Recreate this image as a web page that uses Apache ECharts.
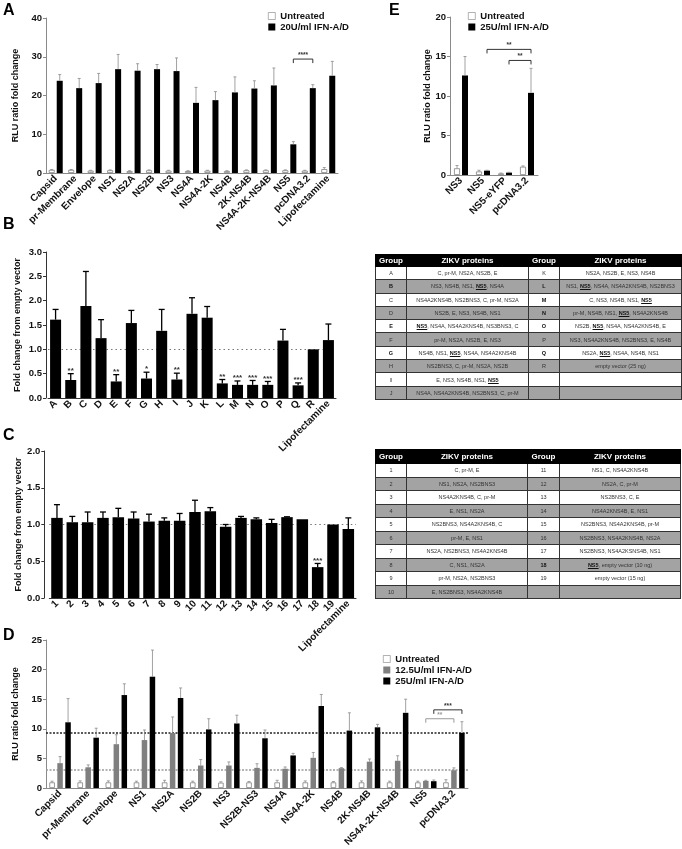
<!DOCTYPE html>
<html>
<head>
<meta charset="utf-8">
<script src="https://cdn.jsdelivr.net/npm/echarts@6/dist/echarts.min.js"></script>
<style>
  html, body { margin: 0; padding: 0; background: #fff; }
  #wrap { position: relative; width: 682px; height: 849px; overflow: hidden; }
  #chart { position: absolute; left: 0; top: 0; width: 682px; height: 849px; }
  table.zt { position: absolute; border-collapse: collapse; table-layout: fixed;
    font-family: 'Liberation Sans', Arial, Helvetica, sans-serif; }
  table.zt th, table.zt td { border: 1px solid #333; padding: 0; text-align: center;
    white-space: nowrap; overflow: hidden; }
  table.zt th { background: #000; color: #fff; font-weight: bold; font-size: 8px; border-color: #000; }
  table.zt td { font-size: 5.5px; color: #333; background: #fff; }
  table.zt tr.g td { background: #a3a3a3; }
  table.zt td b.k { font-weight: bold; color: #111; }
  table.zt u { font-weight: bold; color: #111; }
</style>
</head>
<body>
<div id="wrap">
  <div id="chart"></div>
</div>
<script>
// ---------------- DATA ----------------
// Panel A
const catsA = ['Capsid','pr-Membrane','Envelope','NS1','NS2A','NS2B','NS3','NS4A','NS4A-2K','NS4B','2K-NS4B','NS4A-2K-NS4B','NS5','pcDNA3.2','Lipofectamine'];
const untreatedA    = [0.8,0.8,0.6,0.7,0.5,0.7,0.6,0.5,0.6,0.5,0.7,0.7,0.7,0.6,1.0];
const untreatedAErr = [0.9,0.9,0.7,0.8,0.6,0.8,0.7,0.6,0.7,0.6,0.8,0.8,0.8,0.7,1.4];
const ifn20A        = [23.8,21.9,23.2,26.8,26.4,26.8,26.3,18.1,18.8,20.8,21.8,22.6,7.4,21.9,25.1];
const ifn20AErr     = [25.4,24.4,25.7,30.6,28.2,28.0,29.7,22.1,21.0,24.8,23.8,27.1,8.1,22.8,28.8];
const bracketsA     = [[12,1,13,1,29.4]];
const bracketLabelsA = ['****'];

// Panel E
const catsE = ['NS3','NS5','NS5-eYFP','pcDNA3.2'];
const untreatedE    = [0.85,0.45,0.2,1.05];
const untreatedEErr = [1.2,0.6,0.25,1.15];
const ifn25E        = [12.6,0.55,0.3,10.4];
const ifn25EErr     = [15.0,0.6,0.35,13.5];
const bracketsE     = [[1,1,3,1,15.9],[2,1,3,1,14.5]];
const bracketLabelsE = ['**','**'];

// Panel B
const catsB = ['A','B','C','D','E','F','G','H','I','J','K','L','M','N','O','P','Q','R','Lipofectamine'];
const foldB    = [1.61,0.37,1.89,1.23,0.34,1.54,0.40,1.38,0.38,1.73,1.65,0.30,0.27,0.27,0.27,1.18,0.26,1.00,1.19];
const foldBErr = [1.82,0.50,2.60,1.61,0.48,1.80,0.53,1.82,0.51,2.06,1.88,0.38,0.35,0.36,0.34,1.41,0.31,1.00,1.52];
const starsB   = ['','**','','','**','','*','','**','','','**','***','***','***','','***','',''];
const refLineB = 1.0;

// Panel C
const catsC = ['1','2','3','4','5','6','7','8','9','10','11','12','13','14','15','16','17','18','19','Lipofectamine'];
const foldC    = [1.09,1.03,1.03,1.09,1.10,1.08,1.04,1.05,1.05,1.17,1.18,0.97,1.09,1.07,1.02,1.10,1.07,0.42,1.00,0.94];
const foldCErr = [1.27,1.11,1.17,1.17,1.22,1.17,1.14,1.09,1.15,1.33,1.23,1.00,1.11,1.09,1.07,1.105,1.07,0.47,1.00,1.09];
const starsC   = ['','','','','','','','','','','','','','','','','','***','',''];
const refLineC = 1.0;

// Panel D
const catsD = ['Capsid','pr-Membrane','Envelope','NS1','NS2A','NS2B','NS3','NS2B-NS3','NS4A','NS4A-2K','NS4B','2K-NS4B','NS4A-2K-NS4B','NS5','pcDNA3.2'];
const untreatedD    = [0.95,0.95,0.95,0.95,0.95,0.95,0.9,0.95,0.95,0.95,0.95,0.95,0.95,0.95,0.95];
const untreatedDErr = [1.15,1.2,1.2,1.15,1.3,1.15,1.05,1.1,1.3,1.2,1.1,1.2,1.15,1.15,1.4];
const ifn12D        = [4.2,3.5,7.4,8.1,9.3,3.8,3.8,3.4,3.25,5.1,3.35,4.45,4.6,1.2,3.0];
const ifn12DErr     = [5.3,3.9,9.0,9.8,12.0,4.8,4.4,4.1,3.55,6.0,3.45,4.9,5.45,1.3,3.4];
const ifn25D        = [11.1,8.5,15.7,18.8,15.2,9.9,10.9,8.4,5.5,13.85,9.7,10.25,12.7,1.15,9.3];
const ifn25DErr     = [15.1,10.1,17.6,23.3,16.9,11.7,12.3,9.8,5.85,15.8,12.7,10.75,15.0,1.35,11.2];
const refLinesD     = [9.3, 3.0];
const bracketsD     = [[13,2,14,2,13.2],[13,1,14,1,11.7]];
const bracketLabelsD = ['***','**'];

// Tables
const tableBHead = ['Group','ZIKV proteins','Group','ZIKV proteins'];
const tableBLeft = [
  ['A','C, pr-M, NS2A, NS2B, E'],
  ['B','NS3, NS4B, NS1, NS5, NS4A'],
  ['C','NS4A2KNS4B, NS2BNS3, C, pr-M, NS2A'],
  ['D','NS2B, E, NS3, NS4B, NS1'],
  ['E','NS5, NS4A, NS4A2KNS4B, NS3BNS3, C'],
  ['F','pr-M, NS2A, NS2B, E, NS3'],
  ['G','NS4B, NS1, NS5, NS4A, NS4A2KNS4B'],
  ['H','NS2BNS3, C, pr-M, NS2A, NS2B'],
  ['I','E, NS3, NS4B, NS1, NS5'],
  ['J','NS4A, NS4A2KNS4B, NS2BNS3, C, pr-M']
];
const tableBRight = [
  ['K','NS2A, NS2B, E, NS3, NS4B'],
  ['L','NS1, NS5, NS4A, NS4A2KNS4B, NS2BNS3'],
  ['M','C, NS3, NS4B, NS1, NS5'],
  ['N','pr-M, NS4B, NS1, NS5, NS4A2KNS4B'],
  ['O','NS2B, NS5, NS4A, NS4A2KNS4B, E'],
  ['P','NS3, NS4A2KNS4B, NS2BNS3, E, NS4B'],
  ['Q','NS2A, NS5, NS4A, NS4B, NS1'],
  ['R','empty vector (25 ng)'],
  ['',''],
  ['','']
];
const tableCHead = ['Group','ZIKV proteins','Group','ZIKV proteins'];
const tableCLeft = [
  ['1','C, pr-M, E'],
  ['2','NS1, NS2A, NS2BNS3'],
  ['3','NS4A2KNS4B, C, pr-M'],
  ['4','E, NS1, NS2A'],
  ['5','NS2BNS3, NS4A2KNS4B, C'],
  ['6','pr-M, E, NS1'],
  ['7','NS2A, NS2BNS3, NS4A2KNS4B'],
  ['8','C, NS1, NS2A'],
  ['9','pr-M, NS2A, NS2BNS3'],
  ['10','E, NS2BNS3, NS4A2KNS4B']
];
const tableCRight = [
  ['11','NS1, C, NS4A2KNS4B'],
  ['12','NS2A, C, pr-M'],
  ['13','NS2BNS3, C, E'],
  ['14','NS4A2KNS4B, E, NS1'],
  ['15','NS2BNS3, NS4A2KNS4B, pr-M'],
  ['16','NS2BNS3, NS4A2KNS4B, NS2A'],
  ['17','NS2BNS3, NS4A2KSNS4B, NS1'],
  ['18','NS5, empty vector (10 ng)'],
  ['19','empty vector (15 ng)'],
  ['','']
];

// ---------------- STYLE / LAYOUT ----------------
const FONT = "'Liberation Sans', Arial, Helvetica, sans-serif";
const GRAY_AX = '#8a8a8a';
const DARK_AX = '#333';
const grids = [
  { left: 46,   top: 18,  width: 292,   height: 155 }, // A
  { left: 450,  top: 17,  width: 88,    height: 158 }, // E
  { left: 48,   top: 252, width: 288,   height: 146 }, // B
  { left: 49.3, top: 451, width: 306.7, height: 147 }, // C
  { left: 46,   top: 640, width: 422,   height: 148 }  // D
].map(g => Object.assign({ outerBoundsMode: 'none', containLabel: false }, g));

function xAx(gi, cats, axColor) {
  return {
    type: 'category', gridIndex: gi, data: cats,
    axisLine: { lineStyle: { color: axColor, width: 1 } },
    axisTick: { alignWithLabel: true, length: 2.5, lineStyle: { color: axColor } },
    axisLabel: { rotate: 45, interval: 0, margin: 4, fontSize: 10, fontWeight: 'bold',
                 fontFamily: FONT, color: '#111' }
  };
}
function yAx(gi, max, interval, name, gap, axColor, dec, offset) {
  return {
    type: 'value', gridIndex: gi, min: 0, max: max, interval: interval, offset: offset || 0,
    splitLine: { show: false },
    axisLine: { show: true, lineStyle: { color: axColor, width: 1 } },
    axisTick: { show: true, length: 3, lineStyle: { color: axColor } },
    axisLabel: { margin: 4, fontSize: 9.5, fontWeight: 'bold', fontFamily: FONT, color: '#111',
                 formatter: v => v.toFixed(dec) },
    name: name, nameLocation: 'middle', nameRotate: 90, nameGap: gap,
    nameTextStyle: { fontSize: 9, fontWeight: 'bold', fontFamily: FONT, color: '#111' }
  };
}

function errSeries(gi, vals, errs, offsetPx, color, lw, capW, stars) {
  return {
    type: 'custom', xAxisIndex: gi, yAxisIndex: gi, z: 5, silent: true,
    encode: { x: 0, y: 1 },
    data: vals.map((v, i) => [i, v, errs[i]]),
    renderItem: function (params, api) {
      const i = api.value(0), v = api.value(1), e = api.value(2);
      const p0 = api.coord([i, v]);
      const p1 = api.coord([i, e]);
      const x = p0[0] + offsetPx;
      const ch = [];
      if (e > v) {
        ch.push({ type: 'line', shape: { x1: x, y1: p0[1], x2: x, y2: p1[1] },
                  style: { stroke: color, lineWidth: lw } });
        ch.push({ type: 'line', shape: { x1: x - capW / 2, y1: p1[1], x2: x + capW / 2, y2: p1[1] },
                  style: { stroke: color, lineWidth: lw } });
      }
      const s = stars ? stars[params.dataIndex] : '';
      if (s) {
        ch.push({ type: 'text', x: x, y: p1[1] + 1,
                  style: { text: s, fill: '#333', font: 'bold 8px ' + FONT, align: 'center', verticalAlign: 'bottom' } });
      }
      return { type: 'group', children: ch };
    }
  };
}

function bracketSeries(gi, rows, labels, offsets, colors) {
  return {
    type: 'custom', xAxisIndex: gi, yAxisIndex: gi, z: 6, silent: true,
    encode: { x: 0, y: 4 },
    data: rows,
    renderItem: function (params, api) {
      const c1 = api.value(0), s1 = api.value(1), c2 = api.value(2), s2 = api.value(3), y = api.value(4);
      const a = api.coord([c1, y]), b = api.coord([c2, y]);
      const x1 = a[0] + offsets[s1], x2 = b[0] + offsets[s2], yy = a[1];
      const col = colors[params.dataIndex];
      return { type: 'group', children: [
        { type: 'polyline', shape: { points: [[x1, yy + 4], [x1, yy], [x2, yy], [x2, yy + 4]] },
          style: { stroke: col, lineWidth: 1, fill: null } },
        { type: 'text', x: (x1 + x2) / 2, y: yy - 0.5,
          style: { text: labels[params.dataIndex], fill: col, font: 'bold 6.5px ' + FONT,
                   align: 'center', verticalAlign: 'bottom' } }
      ] };
    }
  };
}

const untreatedStyle = { color: '#fff', borderColor: '#808080', borderWidth: 0.8 };
const blackStyle = { color: '#000' };
const grayStyle = { color: '#7f7f7f' };
const errGray = '#8a8a8a';

const offA = [-4, 4], offE = [-4, 4], offD = [-8, 0, 8];

const legendText = { fontSize: 9.5, fontWeight: 'bold', fontFamily: FONT, color: '#111' };
function legendAt(left, top, names, gap) {
  return { left: left, top: top, padding: 0, orient: 'vertical', icon: 'rect',
           itemWidth: 7, itemHeight: 7, itemGap: gap, data: names,
           itemStyle: { borderWidth: 0.6 },
           textStyle: legendText, selectedMode: false };
}

const option = {
  animation: false,
  backgroundColor: '#fff',
  grid: grids,
  xAxis: [ xAx(0, catsA, GRAY_AX), xAx(1, catsE, GRAY_AX), xAx(2, catsB, DARK_AX), xAx(3, catsC, DARK_AX), xAx(4, catsD, GRAY_AX) ],
  yAxis: [
    yAx(0, 40, 10, 'RLU ratio fold change', 26, GRAY_AX, 0),
    yAx(1, 20, 5, 'RLU ratio fold change', 17, GRAY_AX, 0),
    yAx(2, 3, 0.5, 'Fold change from empty vector', 24, DARK_AX, 1, 2),
    yAx(3, 2, 0.5, 'Fold change from empty vector', 20, DARK_AX, 1, 5),
    yAx(4, 25, 5, 'RLU ratio fold change', 26, GRAY_AX, 0)
  ],
  legend: [
    legendAt(268, 11, ['Untreated', '20U/ml IFN-A/D'], 1),
    legendAt(468, 11, ['Untreated', '25U/ml IFN-A/D'], 1),
    legendAt(383, 654, ['Untreated', '12.5U/ml IFN-A/D', '25U/ml IFN-A/D'], 1)
  ],
  graphic: [
    { type: 'text', left: 3, top: 3, style: { text: 'A', font: 'bold 16px ' + FONT, fill: '#000' } },
    { type: 'text', left: 389, top: 3, style: { text: 'E', font: 'bold 16px ' + FONT, fill: '#000' } },
    { type: 'text', left: 3, top: 217, style: { text: 'B', font: 'bold 16px ' + FONT, fill: '#000' } },
    { type: 'text', left: 3, top: 428, style: { text: 'C', font: 'bold 16px ' + FONT, fill: '#000' } },
    { type: 'text', left: 3, top: 628, style: { text: 'D', font: 'bold 16px ' + FONT, fill: '#000' } }
  ],
  series: [
    // A
    { type: 'bar', name: 'Untreated', xAxisIndex: 0, yAxisIndex: 0, data: untreatedA, barWidth: 6, barGap: '33%', itemStyle: untreatedStyle },
    { type: 'bar', name: '20U/ml IFN-A/D', xAxisIndex: 0, yAxisIndex: 0, data: ifn20A, barWidth: 6, barGap: '33%', itemStyle: blackStyle },
    errSeries(0, untreatedA, untreatedAErr, offA[0], errGray, 0.8, 3),
    errSeries(0, ifn20A, ifn20AErr, offA[1], errGray, 0.8, 3),
    bracketSeries(0, bracketsA, bracketLabelsA, offA, ['#333']),
    // E
    { type: 'bar', name: 'Untreated', xAxisIndex: 1, yAxisIndex: 1, data: untreatedE, barWidth: 6, barGap: '33%', itemStyle: untreatedStyle },
    { type: 'bar', name: '25U/ml IFN-A/D', xAxisIndex: 1, yAxisIndex: 1, data: ifn25E, barWidth: 6, barGap: '33%', itemStyle: blackStyle },
    errSeries(1, untreatedE, untreatedEErr, offE[0], errGray, 0.8, 3),
    errSeries(1, ifn25E, ifn25EErr, offE[1], errGray, 0.8, 3),
    bracketSeries(1, bracketsE, bracketLabelsE, offE, ['#333', '#333']),
    // B
    { type: 'bar', name: 'B', xAxisIndex: 2, yAxisIndex: 2, data: foldB, barWidth: 11, itemStyle: blackStyle,
      markLine: { silent: true, symbol: 'none', label: { show: false }, z: 1,
                  lineStyle: { type: [1.5, 3], color: '#777', width: 1 }, data: [{ yAxis: refLineB }] } },
    errSeries(2, foldB, foldBErr, 0, '#000', 1.3, 6, starsB),
    // C
    { type: 'bar', name: 'C', xAxisIndex: 3, yAxisIndex: 3, data: foldC, barWidth: 11.5, itemStyle: blackStyle,
      markLine: { silent: true, symbol: 'none', label: { show: false }, z: 1,
                  lineStyle: { type: [1.5, 3], color: '#777', width: 1 }, data: [{ yAxis: refLineC }] } },
    errSeries(3, foldC, foldCErr, 0, '#000', 1.3, 6, starsC),
    // D
    { type: 'bar', name: 'Untreated', xAxisIndex: 4, yAxisIndex: 4, data: untreatedD, barWidth: 5.5, barGap: '45%', itemStyle: untreatedStyle,
      markLine: { silent: true, symbol: 'none', label: { show: false }, z: 1,
                  data: [ { yAxis: refLinesD[0], lineStyle: { type: [2, 1.5], color: '#222', width: 1.5 } },
                          { yAxis: refLinesD[1], lineStyle: { type: [2, 1.5], color: '#9a9a9a', width: 1.5 } } ] } },
    { type: 'bar', name: '12.5U/ml IFN-A/D', xAxisIndex: 4, yAxisIndex: 4, data: ifn12D, barWidth: 5.5, barGap: '45%', itemStyle: grayStyle },
    { type: 'bar', name: '25U/ml IFN-A/D', xAxisIndex: 4, yAxisIndex: 4, data: ifn25D, barWidth: 5.5, barGap: '45%', itemStyle: blackStyle },
    errSeries(4, untreatedD, untreatedDErr, offD[0], errGray, 0.8, 3),
    errSeries(4, ifn12D, ifn12DErr, offD[1], errGray, 0.8, 3),
    errSeries(4, ifn25D, ifn25DErr, offD[2], errGray, 0.8, 3),
    bracketSeries(4, bracketsD, bracketLabelsD, offD, ['#333', '#999'])
  ]
};

const chart = echarts.init(document.getElementById('chart'), null, { renderer: 'canvas' });
chart.setOption(option);

// ---------------- TABLES (HTML) ----------------
function cellHTML(txt) {
  return txt.replace(/\bNS5\b/g, '<u>NS5</u>');
}
function buildTable(head, left, right, box, colW, headH, rowH) {
  const t = document.createElement('table');
  t.className = 'zt';
  t.style.left = box.left + 'px';
  t.style.top = box.top + 'px';
  t.style.width = box.width + 'px';
  const cg = document.createElement('colgroup');
  colW.forEach(w => { const c = document.createElement('col'); c.style.width = w + 'px'; cg.appendChild(c); });
  t.appendChild(cg);
  const hr = document.createElement('tr');
  hr.style.height = headH + 'px';
  head.forEach(h => { const th = document.createElement('th'); th.textContent = h; hr.appendChild(th); });
  t.appendChild(hr);
  left.forEach((row, i) => {
    const tr = document.createElement('tr');
    tr.style.height = rowH + 'px';
    if (i % 2 === 1) tr.className = 'g';
    [row, right[i]].forEach(pair => {
      const hasNS5 = /\bNS5\b/.test(pair[1]);
      const g = document.createElement('td');
      g.innerHTML = hasNS5 ? '<b class="k">' + pair[0] + '</b>' : pair[0];
      const p = document.createElement('td');
      p.innerHTML = cellHTML(pair[1]);
      tr.appendChild(g); tr.appendChild(p);
    });
    t.appendChild(tr);
  });
  document.getElementById('wrap').appendChild(t);
}
buildTable(tableBHead, tableBLeft, tableBRight, { left: 375, top: 254, width: 306 }, [31, 122, 31, 122], 12, 13.3);
buildTable(tableCHead, tableCLeft, tableCRight, { left: 375, top: 449, width: 305 }, [31, 121, 32, 121], 14, 13.5);
</script>
</body>
</html>
